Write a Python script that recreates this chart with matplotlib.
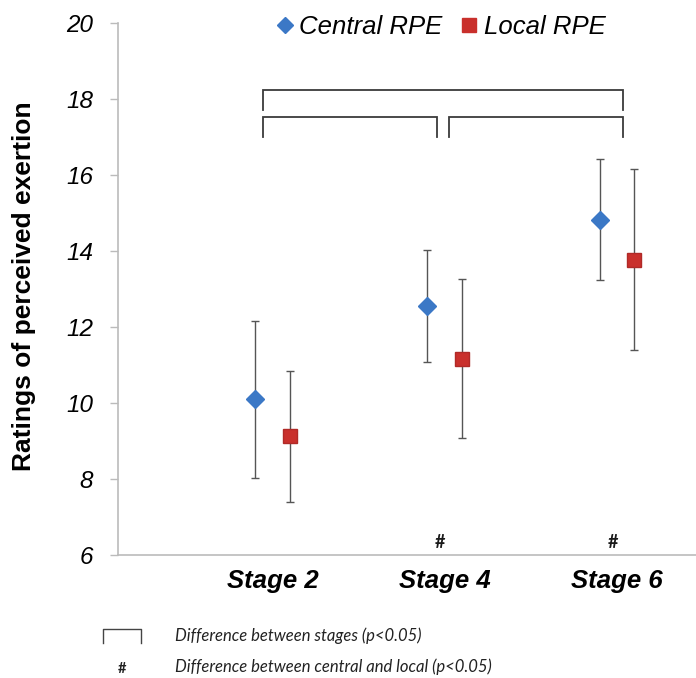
import matplotlib
matplotlib.use("Agg")
import matplotlib.pyplot as plt
from matplotlib.lines import Line2D

stages = ["Stage 2", "Stage 4", "Stage 6"]
central_mean = [10.1, 12.56, 14.82]
central_sd = [2.07, 1.47, 1.59]
local_mean = [9.12, 11.17, 13.77]
local_sd = [1.72, 2.10, 2.38]
# stage pairs that differ, and stages where central differs from local
stage_pairs = [(0, 2), (0, 1), (1, 2)]
hash_stages = [1, 2]

blue = "#3b78c6"
red = "#c9302c"
bar_grey = "#555555"

plt.rcParams["font.family"] = ["Liberation Sans", "DejaVu Sans"]

fig = plt.figure(figsize=(6.96, 6.78), dpi=100)
ax = fig.add_axes([118 / 696, 123 / 678, 578 / 696, 532 / 678])

xs = [1, 2, 3]
off = 0.1
ax.errorbar([x - off for x in xs], central_mean, yerr=central_sd, fmt="D",
            ms=9.5, color=blue, mec=blue, ecolor=bar_grey, elinewidth=1,
            capsize=2.6, capthick=1, label="Central RPE", zorder=3)
ax.errorbar([x + off for x in xs], local_mean, yerr=local_sd, fmt="s",
            ms=10.5, color=red, mec="#b02a27", ecolor=bar_grey, elinewidth=1,
            capsize=2.6, capthick=1, label="Local RPE", zorder=3)

# significance brackets between stages
bracket_ends = {0: 0.945, 1: 1.955, 2: 3.035}
bracket_ends_right = {1: 2.025}
levels = [(18.24, 17.71), (17.53, 17.0), (17.53, 17.0)]
for (a, b), (top, bot) in zip(stage_pairs, levels):
    x0 = bracket_ends_right.get(a, bracket_ends[a]) if a != 0 else bracket_ends[0]
    x1 = bracket_ends[b]
    ax.plot([x0, x0, x1, x1], [bot, top, top, bot], color="#3a3a3a",
            lw=1.3, solid_joinstyle="miter", clip_on=False)

for i in hash_stages:
    ax.text(xs[i] - 0.025, 6.33, "#", ha="center", va="center", fontsize=13,
            fontweight="bold", family=["Lato", "DejaVu Sans"], color="#1a1a1a")

ax.set_xlim(0.102, 3.46)
ax.set_ylim(6, 20)
ax.set_yticks(range(6, 21, 2))
ax.set_yticklabels([str(v) for v in range(6, 21, 2)], fontsize=17.5,
                   style="italic")
ax.set_xticks(xs)
ax.set_xticklabels(stages, fontsize=18.5, fontweight="bold", style="italic")
ax.tick_params(axis="x", length=0, pad=10)
ax.tick_params(axis="y", length=6, width=1, color="#bbbbbb", pad=12)

for side in ["top", "right"]:
    ax.spines[side].set_visible(False)
for side in ["left", "bottom"]:
    ax.spines[side].set_color("#bbbbbb")
    ax.spines[side].set_linewidth(1.2)

ax.set_ylabel("Ratings of perceived exertion", fontsize=19, fontweight="bold")
ax.yaxis.set_label_coords(-0.142, 0.506)

leg = fig.legend(handles=[
    Line2D([], [], marker="D", ls="", color=blue, ms=8, label="Central RPE"),
    Line2D([], [], marker="s", ls="", color=red, ms=10, label="Local RPE")],
    loc="center", bbox_to_anchor=(442 / 696, 1 - 27 / 678), ncol=2,
    frameon=False, handlelength=0.5, handletextpad=0.3, columnspacing=0.8,
    prop={"size": 18.5, "style": "italic"})

# footnote key
fig.add_artist(Line2D([103 / 696, 103 / 696, 141 / 696, 141 / 696],
                      [1 - 643 / 678, 1 - 629 / 678, 1 - 629 / 678, 1 - 643 / 678],
                      color="#444444", lw=1))
fig.text(122.5 / 696, 1 - 669 / 678, "#", ha="center", va="center",
         fontsize=10.5, fontweight="bold", family=["Lato", "DejaVu Sans"],
         color="#222222")
note_font = dict(fontsize=12, style="italic", family=["Lato", "DejaVu Sans"],
                 color="#222222", va="center", ha="left")
fig.text(175 / 696, 1 - 636 / 678, "Difference between stages (p<0.05)",
         **note_font)
fig.text(175 / 696, 1 - 667 / 678,
         "Difference between central and local (p<0.05)", **note_font)

fig.savefig("out.png", dpi=100)
